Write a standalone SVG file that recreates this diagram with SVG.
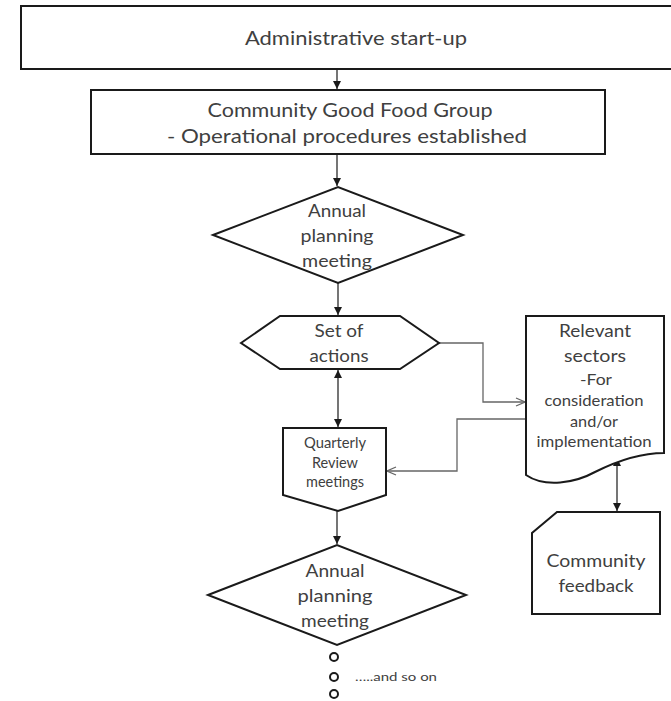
<svg xmlns="http://www.w3.org/2000/svg" width="671" height="701" viewBox="0 0 671 701">
<style>
.shape{fill:#ffffff;stroke:#1a1a1a;stroke-width:2;stroke-linejoin:miter}
.t{font-family:Lato,"Liberation Sans",sans-serif;fill:#404040;text-anchor:middle}
.big{font-size:20px}
.mid{font-size:17px}
.sm{font-size:15px}
.xs{font-size:12px}
.conn{fill:none;stroke:#1a1a1a;stroke-width:1.2}
.gconn{fill:none;stroke:#666666;stroke-width:1.3}
</style>
<defs>
<marker id="ah" viewBox="0 0 10 10" refX="10" refY="5" markerWidth="8" markerHeight="8" markerUnits="userSpaceOnUse" orient="auto-start-reverse">
<path d="M0,0 L10,5 L0,10 Z" fill="#1a1a1a"/>
</marker>
<marker id="oa" viewBox="0 0 10 10" refX="10" refY="5" markerWidth="10" markerHeight="10" markerUnits="userSpaceOnUse" orient="auto">
<path d="M1,1 L10,5 L1,9" fill="none" stroke="#666666" stroke-width="1.3"/>
</marker>
</defs>
<rect width="671" height="701" fill="#ffffff"/>

<g id="connectors">
<line class="conn" x1="337" y1="69" x2="337" y2="89" marker-end="url(#ah)"/>
<line class="conn" x1="337" y1="154" x2="337" y2="186" marker-end="url(#ah)"/>
<line class="conn" x1="338" y1="283" x2="338" y2="315" marker-end="url(#ah)"/>
<line class="conn" x1="338" y1="370" x2="338" y2="427" marker-start="url(#ah)" marker-end="url(#ah)"/>
<line class="conn" x1="337" y1="511" x2="337" y2="544" marker-end="url(#ah)"/>
<line class="conn" x1="617" y1="458" x2="617" y2="511" marker-start="url(#ah)" marker-end="url(#ah)"/>
<path class="gconn" d="M439,343 H483 V402 H525" marker-end="url(#oa)"/>
<path class="gconn" d="M526,419 H457 V471 H387" marker-end="url(#oa)"/>
</g>

<g id="admin-startup">
<rect class="shape" x="21" y="6" width="670" height="63"/>
<text class="t big" x="356" y="45" textLength="222" lengthAdjust="spacingAndGlyphs">Administrative start-up</text>
</g>

<g id="good-food-group">
<rect class="shape" x="91" y="90" width="514" height="64"/>
<text class="t big" x="350" y="117" textLength="285" lengthAdjust="spacingAndGlyphs">Community Good Food Group</text>
<text class="t big" x="347" y="143" textLength="360" lengthAdjust="spacingAndGlyphs">- Operational procedures established</text>
</g>

<g id="annual-planning-1">
<polygon class="shape" points="213,235 338,187 463,235 338,283"/>
<text class="t mid" x="337" y="217" textLength="58" lengthAdjust="spacingAndGlyphs">Annual</text>
<text class="t mid" x="337" y="242" textLength="73" lengthAdjust="spacingAndGlyphs">planning</text>
<text class="t mid" x="337" y="267" textLength="70" lengthAdjust="spacingAndGlyphs">meeting</text>
</g>

<g id="set-of-actions">
<polygon class="shape" points="241,343 280,316 400,316 439,343 400,369 280,369"/>
<text class="t mid" x="339" y="337" textLength="49" lengthAdjust="spacingAndGlyphs">Set of</text>
<text class="t mid" x="339" y="362" textLength="59" lengthAdjust="spacingAndGlyphs">actions</text>
</g>

<g id="quarterly-review">
<polygon class="shape" points="283,428 386,428 386,495 338,511 283,495"/>
<text class="t sm" x="335" y="448" textLength="62" lengthAdjust="spacingAndGlyphs">Quarterly</text>
<text class="t sm" x="335" y="468" textLength="46" lengthAdjust="spacingAndGlyphs">Review</text>
<text class="t sm" x="335" y="487" textLength="58" lengthAdjust="spacingAndGlyphs">meetings</text>
</g>

<g id="relevant-sectors">
<path class="shape" d="M526,316 H664 V453 C640,453 615,462 595,472 C575,483 545,488 526,475 Z"/>
<text class="t mid" x="595" y="337" textLength="72" lengthAdjust="spacingAndGlyphs">Relevant</text>
<text class="t mid" x="595" y="362" textLength="62" lengthAdjust="spacingAndGlyphs">sectors</text>
<text class="t sm" x="596" y="385" textLength="32" lengthAdjust="spacingAndGlyphs">-For</text>
<text class="t sm" x="594" y="406" textLength="99" lengthAdjust="spacingAndGlyphs">consideration</text>
<text class="t sm" x="594" y="427" textLength="48" lengthAdjust="spacingAndGlyphs">and/or</text>
<text class="t sm" x="594" y="447" textLength="115" lengthAdjust="spacingAndGlyphs">implementation</text>
</g>

<g id="community-feedback">
<polygon class="shape" points="557,512 660,512 660,614 532,614 532,533"/>
<text class="t mid" x="596" y="567" textLength="99" lengthAdjust="spacingAndGlyphs">Community</text>
<text class="t mid" x="596" y="592" textLength="75" lengthAdjust="spacingAndGlyphs">feedback</text>
</g>

<g id="annual-planning-2">
<polygon class="shape" points="208,595 337,545 466,595 337,645"/>
<text class="t mid" x="335" y="577" textLength="59" lengthAdjust="spacingAndGlyphs">Annual</text>
<text class="t mid" x="335" y="602" textLength="75" lengthAdjust="spacingAndGlyphs">planning</text>
<text class="t mid" x="335" y="627" textLength="68" lengthAdjust="spacingAndGlyphs">meeting</text>
</g>

<g id="and-so-on">
<circle cx="334" cy="657" r="4" fill="none" stroke="#1a1a1a" stroke-width="2"/>
<circle cx="334" cy="677" r="4" fill="none" stroke="#1a1a1a" stroke-width="2"/>
<circle cx="334" cy="694" r="4" fill="none" stroke="#1a1a1a" stroke-width="2"/>
<text class="t xs" x="355" y="681" text-anchor="start" style="text-anchor:start" textLength="82" lengthAdjust="spacingAndGlyphs">…..and so on</text>
</g>
</svg>
